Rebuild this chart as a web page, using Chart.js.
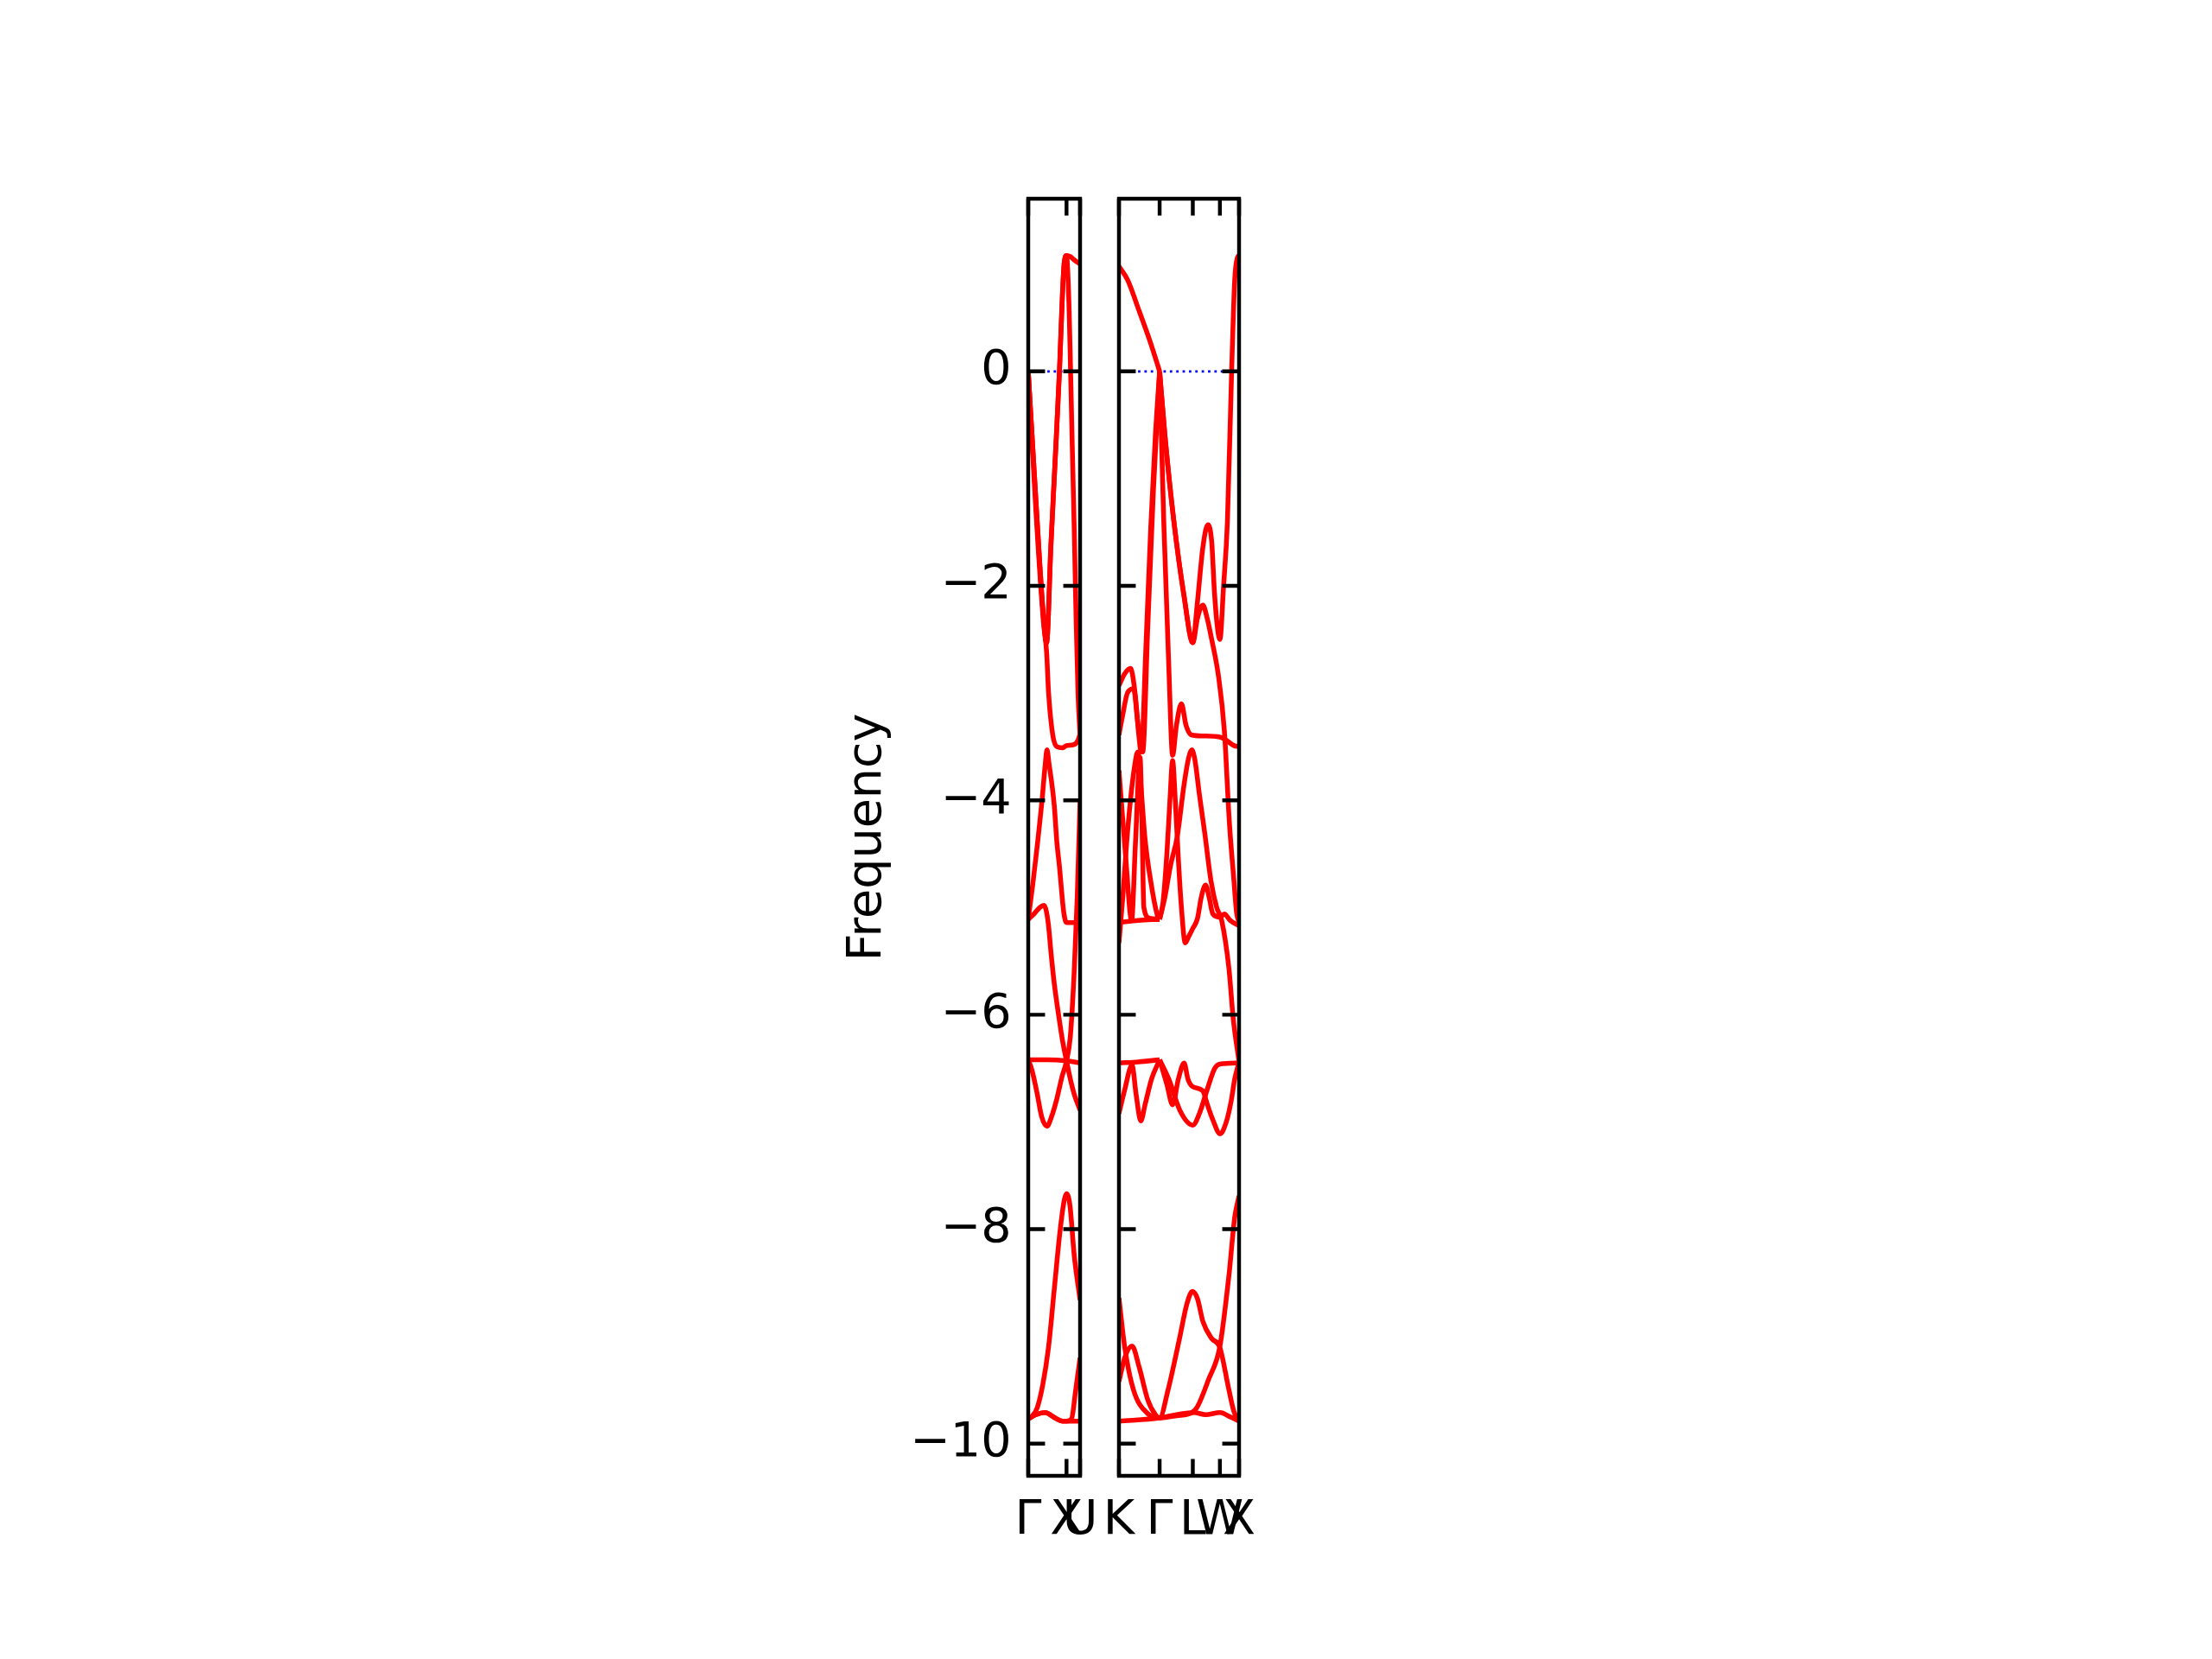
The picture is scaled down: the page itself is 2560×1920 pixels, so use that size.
<!DOCTYPE html>
<html><head><meta charset="utf-8">
<script src="https://cdn.jsdelivr.net/npm/chart.js@4.4.1/dist/chart.umd.min.js"></script>
<style>html,body{margin:0;padding:0;background:#fff;width:2560px;height:1920px;overflow:hidden}canvas{position:absolute;left:0;top:0}</style>
</head><body>
<canvas id="c1" width="2560" height="1920"></canvas>
<canvas id="c2" width="2560" height="1920"></canvas>
<script>
// ---- axis / tick data ----
const yTicks = [-10, -8, -6, -4, -2, 0];
const yMin = -10.3, yMax = 1.61;
const leftLabels = ['Γ', 'X', 'U'];
const leftPos = [0, 1.0, 1.354];
const rightLabels = ['K', 'Γ', 'L', 'W', 'X'];
const rightPos = [0, 1.061, 1.927, 2.634, 3.134];

// ---- left panel bands (Γ–X–U): [k, frequency] ----
const lTA1 = [[0,0],[0.2,-1.2],[0.4,-2.3],[0.48,-2.53],[0.59,-1.64],[0.7,-0.85],[0.815,0],[0.88,0.6],[0.93,0.97],[0.97,1.07],[1.0,1.08],[1.1,1.07],[1.2,1.04],[1.354,1.0]];
const lTA2 = [[0,0],[0.2,-1.2],[0.4,-2.3],[0.48,-2.53],[0.59,-1.64],[0.7,-0.85],[0.815,0],[0.88,0.6],[0.93,0.97],[0.97,1.07],[1.0,1.08],[1.03,0.95],[1.07,0.55],[1.1,0.1],[1.15,-0.7],[1.2,-1.45],[1.25,-2.3],[1.3,-3.0],[1.354,-3.4]];
const lLA = [[0,0],[0.2,-1.3],[0.4,-2.35],[0.48,-2.62],[0.53,-2.99],[0.64,-3.39],[0.75,-3.5],[0.9,-3.51],[1.0,-3.49],[1.2,-3.48],[1.3,-3.44],[1.354,-3.38]];
const lD = [[0,-5.11],[0.12,-4.78],[0.23,-4.44],[0.36,-4.0],[0.44,-3.68],[0.49,-3.53],[0.54,-3.65],[0.68,-4.05],[0.75,-4.4],[0.81,-4.6],[0.93,-5.05],[1.0,-5.14],[1.354,-5.14]];
const lC = [[0,-5.11],[0.15,-5.06],[0.3,-5.0],[0.41,-4.98],[0.47,-5.03],[0.53,-5.17],[0.6,-5.44],[0.68,-5.71],[0.8,-6.02],[0.9,-6.25],[1.0,-6.43],[1.1,-6.6],[1.2,-6.74],[1.354,-6.89]];
const lB4 = [[0,-6.42],[0.5,-6.42],[1.0,-6.43],[1.354,-6.45]];
const lB5 = [[0,-6.42],[0.1,-6.52],[0.23,-6.73],[0.35,-6.95],[0.49,-7.04],[0.6,-6.96],[0.75,-6.78],[0.88,-6.58],[1.0,-6.43],[1.1,-6.2],[1.2,-5.6],[1.28,-4.9],[1.354,-4.0]];
const lB3 = [[0,-9.77],[0.08,-9.75],[0.23,-9.67],[0.38,-9.45],[0.53,-9.1],[0.68,-8.56],[0.83,-8.02],[0.94,-7.73],[1.0,-7.67],[1.09,-7.78],[1.2,-8.24],[1.354,-8.66]];
const lB1 = [[0,-9.77],[0.2,-9.73],[0.44,-9.71],[0.7,-9.76],[0.9,-9.79],[1.0,-9.79],[1.354,-9.79]];
const lB2 = [[0,-9.77],[0.2,-9.73],[0.44,-9.71],[0.7,-9.76],[0.9,-9.79],[1.0,-9.79],[1.13,-9.77],[1.24,-9.5],[1.354,-9.2]];

// ---- right panel bands (K–Γ–L–W–X) ----
const r1 = [[0,0.98],[0.23,0.85],[0.53,0.56],[0.83,0.26],[1.061,0]];
const r2 = [[1.061,0],[1.2,-0.6],[1.43,-1.39],[1.7,-2.1],[1.927,-2.53],[2.04,-2.18],[2.19,-1.64],[2.32,-1.43],[2.42,-1.59],[2.49,-2.05],[2.57,-2.39],[2.634,-2.5],[2.73,-2.0],[2.83,-1.4],[2.94,0],[3.02,0.85],[3.09,1.06],[3.134,1.08]];
const r3 = [[1.061,0],[1.2,-0.6],[1.43,-1.39],[1.7,-2.1],[1.927,-2.53],[2.05,-2.3],[2.19,-2.18],[2.3,-2.3],[2.42,-2.5],[2.6,-2.85],[2.75,-3.35],[2.88,-4.2],[3.0,-4.75],[3.07,-5.05],[3.134,-5.14]];
const r4 = [[1.061,0],[1.17,-1.41],[1.3,-2.75],[1.40,-3.58],[1.5,-3.3],[1.63,-3.1],[1.75,-3.3],[1.89,-3.39],[2.2,-3.4],[2.63,-3.41],[2.8,-3.44],[3.0,-3.49],[3.134,-3.5]];
const r5 = [[0,-2.93],[0.15,-2.82],[0.3,-2.77],[0.42,-3.0],[0.52,-3.4],[0.58,-3.55],[0.7,-2.6],[0.83,-1.45],[0.95,-0.6],[1.061,0]];
const r6 = [[0,-3.39],[0.1,-3.2],[0.22,-3.0],[0.38,-2.96],[0.5,-3.3],[0.62,-3.55],[0.75,-2.4],[0.9,-1.1],[1.061,0]];
const r7 = [[0,-5.14],[0.5,-5.12],[1.061,-5.11]];
const r8 = [[1.061,-5.11],[1.15,-4.95],[1.25,-4.5],[1.33,-4.0],[1.4,-3.63],[1.47,-4.0],[1.55,-4.55],[1.63,-5.0],[1.73,-5.33],[1.82,-5.27],[1.92,-5.2],[2.05,-5.1],[2.15,-4.9],[2.26,-4.79],[2.35,-4.9],[2.45,-5.06],[2.64,-5.09],[2.75,-5.06],[2.9,-5.12],[3.134,-5.17]];
const r9 = [[1.061,-5.11],[1.2,-4.9],[1.35,-4.6],[1.52,-4.34],[1.7,-3.85],[1.82,-3.6],[1.9,-3.53],[1.98,-3.62],[2.1,-3.95],[2.24,-4.31],[2.4,-4.75],[2.55,-5.0],[2.68,-5.12],[2.87,-5.57],[2.98,-6.03],[3.134,-6.44]];
const r10 = [[0,-3.72],[0.18,-4.55],[0.33,-5.12],[0.43,-4.4],[0.55,-3.6],[0.6,-4.2],[0.65,-5.0],[0.8,-5.1],[1.061,-5.11]];
const r11 = [[0,-5.33],[0.1,-4.9],[0.2,-4.4],[0.3,-4.0],[0.4,-3.7],[0.49,-3.55],[0.58,-3.9],[0.68,-4.36],[0.85,-4.8],[1.0,-5.07],[1.061,-5.11]];
const r12 = [[0,-6.45],[0.5,-6.44],[1.061,-6.42]];
const r13 = [[1.061,-6.42],[1.25,-6.65],[1.4,-6.84],[1.55,-6.6],[1.7,-6.45],[1.8,-6.6],[1.92,-6.67],[2.19,-6.71],[2.3,-6.83],[2.45,-6.98],[2.64,-7.11],[2.8,-7.0],[2.93,-6.8],[3.02,-6.6],[3.134,-6.44]];
const r14 = [[1.061,-6.42],[1.3,-6.6],[1.6,-6.9],[1.927,-7.03],[2.1,-6.92],[2.3,-6.7],[2.5,-6.5],[2.634,-6.46],[3.134,-6.45]];
const r15 = [[0,-6.92],[0.15,-6.7],[0.34,-6.47],[0.45,-6.75],[0.57,-6.99],[0.68,-6.84],[0.85,-6.6],[1.061,-6.42]];
const r16 = [[0,-9.79],[1.061,-9.76],[1.5,-9.73],[1.96,-9.71],[2.26,-9.73],[2.64,-9.71],[2.9,-9.75],[3.134,-9.79]];
const r17 = [[0,-8.64],[0.15,-9.1],[0.38,-9.5],[0.75,-9.72],[1.061,-9.76],[1.28,-9.5],[1.58,-9.02],[1.77,-8.7],[1.92,-8.58],[2.05,-8.65],[2.19,-8.86],[2.42,-9.02],[2.63,-9.1],[2.87,-9.5],[3.0,-9.7],[3.134,-9.79]];
const r18 = [[0,-9.42],[0.15,-9.2],[0.34,-9.09],[0.53,-9.29],[0.75,-9.59],[0.95,-9.73],[1.061,-9.76],[1.5,-9.74],[1.9,-9.71],[2.04,-9.66],[2.34,-9.4],[2.63,-9.1],[2.87,-8.43],[3.02,-7.89],[3.134,-7.69]];

const leftBands = [lTA1, lTA2, lLA, lD, lC, lB4, lB5, lB3, lB1, lB2];
const rightBands = [r1, r2, r3, r4, r5, r6, r7, r8, r9, r10, r11, r12, r13, r14, r15, r16, r17, r18];

// ---- style ----
const DPI = 400 / 72;
const FONT = 'DejaVu Sans';
const FS = 10 * DPI;
const SPINE = 0.8 * DPI;
const TICKLEN = 3.5 * DPI;

const framePlugin = {
  id: 'frame',
  afterDatasetsDraw(chart, args, opts) {
    const ctx = chart.ctx, a = chart.chartArea;
    const xs = chart.scales.x, ys = chart.scales.y;
    ctx.save();
    ctx.strokeStyle = '#000';
    ctx.lineWidth = SPINE;
    ctx.lineCap = 'butt';
    ctx.beginPath();
    for (const v of opts.kpos) {
      const px = xs.getPixelForValue(v);
      ctx.moveTo(px, a.bottom); ctx.lineTo(px, a.bottom - TICKLEN);
      ctx.moveTo(px, a.top); ctx.lineTo(px, a.top + TICKLEN);
    }
    for (const v of yTicks) {
      const py = ys.getPixelForValue(v);
      ctx.moveTo(a.left, py); ctx.lineTo(a.left + TICKLEN, py);
      ctx.moveTo(a.right, py); ctx.lineTo(a.right - TICKLEN, py);
    }
    ctx.stroke();
    ctx.strokeRect(a.left, a.top, a.right - a.left, a.bottom - a.top);
    ctx.restore();
  }
};

function makeChart(id, bands, pos, labels, padL, padR, showY) {
  const sets = [{
    data: [{x: pos[0], y: 0}, {x: pos[pos.length - 1], y: 0}],
    borderColor: '#0000ff', borderWidth: 0.5 * DPI, borderDash: [0.5 * DPI, 0.825 * DPI],
    pointRadius: 0, fill: false, order: 5
  }];
  for (const b of bands) {
    sets.push({
      data: b.map(p => ({x: p[0], y: p[1]})),
      borderColor: '#ff0000', borderWidth: 1.0 * DPI, pointRadius: 0, fill: false,
      cubicInterpolationMode: 'monotone', order: 1
    });
  }
  return new Chart(document.getElementById(id), {
    type: 'line',
    data: {datasets: sets},
    options: {
      responsive: false, animation: false, devicePixelRatio: 1,
      layout: {padding: {left: padL, right: padR, top: 230, bottom: 0}},
      plugins: {legend: {display: false}, tooltip: {enabled: false}, frame: {kpos: pos}},
      scales: {
        x: {
          type: 'linear', min: pos[0], max: pos[pos.length - 1],
          grid: {display: false, drawTicks: false}, border: {display: false},
          afterBuildTicks: s => { s.ticks = pos.map(v => ({value: v})); },
          afterFit: s => { s.height = 1920 - 1708; },
          ticks: {autoSkip: false, maxRotation: 0, minRotation: 0, padding: 3.5 * DPI, color: '#000',
                  font: {family: FONT, size: FS}, callback: (v, i) => labels[i]}
        },
        y: {
          type: 'linear', min: yMin, max: yMax, display: showY,
          grid: {display: false, drawTicks: false}, border: {display: false},
          afterBuildTicks: s => { s.ticks = yTicks.map(v => ({value: v})); },
          afterFit: s => { s.width = showY ? 1190 - 971 : 0; },
          ticks: {padding: 3.5 * DPI, color: '#000', font: {family: FONT, size: FS},
                  callback: v => (v < 0 ? '\u2212' + Math.abs(v) : String(v))},
          title: {display: showY, text: 'Frequency', color: '#000', padding: 0,
                  font: {family: FONT, size: FS}}
        }
      }
    },
    plugins: [framePlugin]
  });
}

makeChart('c1', leftBands, leftPos, leftLabels, 971, 2560 - 1250, true);
makeChart('c2', rightBands, rightPos, rightLabels, 1295, 2560 - 1434, false);
</script>
</body></html>
